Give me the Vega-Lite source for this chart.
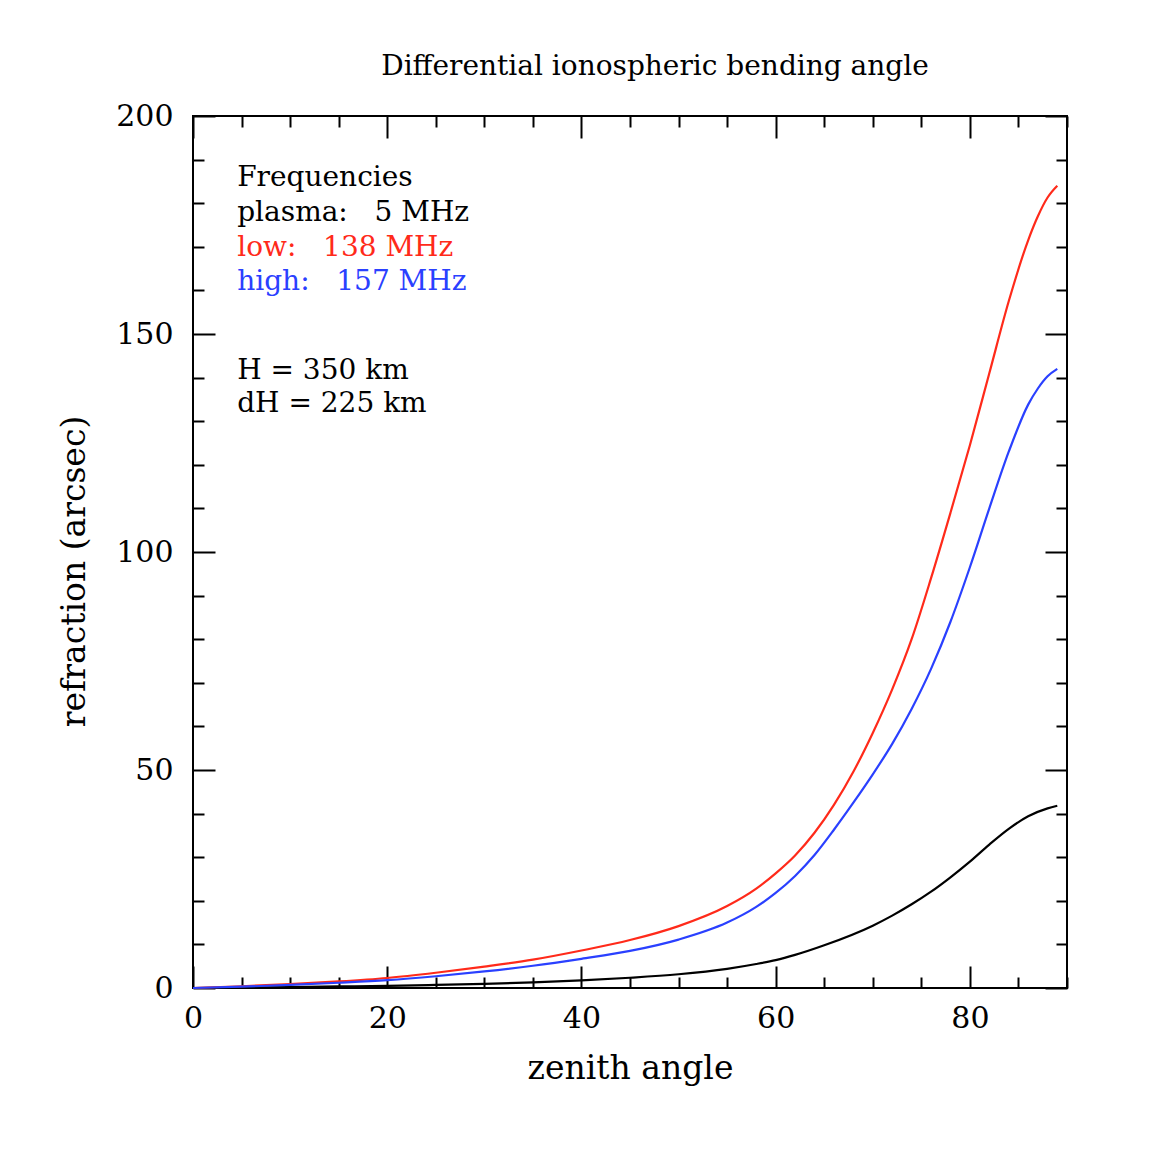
{
  "$schema": "https://vega.github.io/schema/vega-lite/v6.json",
  "width": 874,
  "height": 872,
  "autosize": {"type": "none"},
  "padding": {"left": 193, "top": 116, "right": 91, "bottom": 177},
  "background": "white",
  "config": {
    "view": {"stroke": "black", "strokeWidth": 2},
    "font": "DejaVu Serif",
    "axis": {
      "domain": false, "grid": false,
      "tickColor": "black", "tickWidth": 2,
      "labelColor": "black", "labelFont": "DejaVu Serif", "labelFontSize": 30,
      "titleFont": "DejaVu Serif", "titleFontSize": 33, "titleFontWeight": "normal", "titleColor": "black"
    }
  },
  "title": {
    "text": "Differential ionospheric bending angle",
    "font": "DejaVu Serif", "fontSize": 28, "fontWeight": "normal", "color": "black",
    "anchor": "middle", "dx": 25, "offset": -2, "baseline": "alphabetic"
  },
  "datasets": {
    "curves": [
      {"zenith": 0, "refraction": 0, "series": "plasma"},
      {"zenith": 5, "refraction": 0.1, "series": "plasma"},
      {"zenith": 10, "refraction": 0.2, "series": "plasma"},
      {"zenith": 15, "refraction": 0.35, "series": "plasma"},
      {"zenith": 20, "refraction": 0.5, "series": "plasma"},
      {"zenith": 25, "refraction": 0.7, "series": "plasma"},
      {"zenith": 30, "refraction": 0.95, "series": "plasma"},
      {"zenith": 35, "refraction": 1.3, "series": "plasma"},
      {"zenith": 40, "refraction": 1.75, "series": "plasma"},
      {"zenith": 45, "refraction": 2.35, "series": "plasma"},
      {"zenith": 50, "refraction": 3.15, "series": "plasma"},
      {"zenith": 55, "refraction": 4.4, "series": "plasma"},
      {"zenith": 58, "refraction": 5.5, "series": "plasma"},
      {"zenith": 60, "refraction": 6.4, "series": "plasma"},
      {"zenith": 62, "refraction": 7.6, "series": "plasma"},
      {"zenith": 65, "refraction": 9.8, "series": "plasma"},
      {"zenith": 70, "refraction": 14.3, "series": "plasma"},
      {"zenith": 72, "refraction": 16.6, "series": "plasma"},
      {"zenith": 74, "refraction": 19.2, "series": "plasma"},
      {"zenith": 76, "refraction": 22.1, "series": "plasma"},
      {"zenith": 78, "refraction": 25.4, "series": "plasma"},
      {"zenith": 80, "refraction": 29.0, "series": "plasma"},
      {"zenith": 82, "refraction": 32.9, "series": "plasma"},
      {"zenith": 84, "refraction": 36.5, "series": "plasma"},
      {"zenith": 86, "refraction": 39.4, "series": "plasma"},
      {"zenith": 88, "refraction": 41.2, "series": "plasma"},
      {"zenith": 89, "refraction": 41.8, "series": "plasma"},
      {"zenith": 0, "refraction": 0, "series": "low"},
      {"zenith": 5, "refraction": 0.4, "series": "low"},
      {"zenith": 10, "refraction": 0.9, "series": "low"},
      {"zenith": 15, "refraction": 1.5, "series": "low"},
      {"zenith": 20, "refraction": 2.3, "series": "low"},
      {"zenith": 25, "refraction": 3.5, "series": "low"},
      {"zenith": 30, "refraction": 4.9, "series": "low"},
      {"zenith": 35, "refraction": 6.5, "series": "low"},
      {"zenith": 40, "refraction": 8.6, "series": "low"},
      {"zenith": 45, "refraction": 11.0, "series": "low"},
      {"zenith": 50, "refraction": 14.2, "series": "low"},
      {"zenith": 55, "refraction": 18.8, "series": "low"},
      {"zenith": 58, "refraction": 22.8, "series": "low"},
      {"zenith": 60, "refraction": 26.3, "series": "low"},
      {"zenith": 62, "refraction": 30.4, "series": "low"},
      {"zenith": 64, "refraction": 35.6, "series": "low"},
      {"zenith": 66, "refraction": 42.0, "series": "low"},
      {"zenith": 68, "refraction": 49.6, "series": "low"},
      {"zenith": 70, "refraction": 58.5, "series": "low"},
      {"zenith": 72, "refraction": 68.5, "series": "low"},
      {"zenith": 74, "refraction": 80.0, "series": "low"},
      {"zenith": 76, "refraction": 94.0, "series": "low"},
      {"zenith": 78, "refraction": 109.0, "series": "low"},
      {"zenith": 80, "refraction": 124.5, "series": "low"},
      {"zenith": 82, "refraction": 141.0, "series": "low"},
      {"zenith": 84, "refraction": 157.5, "series": "low"},
      {"zenith": 86, "refraction": 171.5, "series": "low"},
      {"zenith": 87, "refraction": 177.0, "series": "low"},
      {"zenith": 88, "refraction": 181.3, "series": "low"},
      {"zenith": 89, "refraction": 184.0, "series": "low"},
      {"zenith": 0, "refraction": 0, "series": "high"},
      {"zenith": 5, "refraction": 0.3, "series": "high"},
      {"zenith": 10, "refraction": 0.7, "series": "high"},
      {"zenith": 15, "refraction": 1.2, "series": "high"},
      {"zenith": 20, "refraction": 1.8, "series": "high"},
      {"zenith": 25, "refraction": 2.7, "series": "high"},
      {"zenith": 30, "refraction": 3.8, "series": "high"},
      {"zenith": 35, "refraction": 5.1, "series": "high"},
      {"zenith": 40, "refraction": 6.7, "series": "high"},
      {"zenith": 45, "refraction": 8.5, "series": "high"},
      {"zenith": 50, "refraction": 11.1, "series": "high"},
      {"zenith": 55, "refraction": 15.0, "series": "high"},
      {"zenith": 58, "refraction": 18.6, "series": "high"},
      {"zenith": 60, "refraction": 21.8, "series": "high"},
      {"zenith": 62, "refraction": 25.7, "series": "high"},
      {"zenith": 64, "refraction": 30.5, "series": "high"},
      {"zenith": 66, "refraction": 36.3, "series": "high"},
      {"zenith": 68, "refraction": 42.5, "series": "high"},
      {"zenith": 70, "refraction": 49.0, "series": "high"},
      {"zenith": 72, "refraction": 56.0, "series": "high"},
      {"zenith": 74, "refraction": 64.0, "series": "high"},
      {"zenith": 76, "refraction": 73.2, "series": "high"},
      {"zenith": 78, "refraction": 84.0, "series": "high"},
      {"zenith": 80, "refraction": 96.5, "series": "high"},
      {"zenith": 82, "refraction": 110.0, "series": "high"},
      {"zenith": 84, "refraction": 123.0, "series": "high"},
      {"zenith": 86, "refraction": 133.8, "series": "high"},
      {"zenith": 87, "refraction": 137.5, "series": "high"},
      {"zenith": 88, "refraction": 140.3, "series": "high"},
      {"zenith": 89, "refraction": 142.0, "series": "high"}
    ],
    "notes": [
      {"zenith": 4.55, "refraction": 183.9, "label": "Frequencies", "series": "note"},
      {"zenith": 4.55, "refraction": 176.0, "label": "plasma:\u00a0\u00a0\u00a05 MHz", "series": "plasma"},
      {"zenith": 4.55, "refraction": 167.9, "label": "low:\u00a0\u00a0\u00a0138 MHz", "series": "low"},
      {"zenith": 4.55, "refraction": 160.1, "label": "high:\u00a0\u00a0\u00a0157 MHz", "series": "high"},
      {"zenith": 4.55, "refraction": 139.7, "label": "H = 350 km", "series": "note"},
      {"zenith": 4.55, "refraction": 132.2, "label": "dH = 225 km", "series": "note"}
    ]
  },
  "layer": [
    {
      "data": {"name": "curves"},
      "mark": {"type": "line", "strokeWidth": 2.2, "interpolate": "monotone"},
      "encoding": {
        "x": {
          "field": "zenith", "type": "quantitative",
          "scale": {"domain": [0, 90], "nice": false, "zero": false},
          "axis": {
            "orient": "bottom", "title": "zenith angle",
            "values": [0, 5, 10, 15, 20, 25, 30, 35, 40, 45, 50, 55, 60, 65, 70, 75, 80, 85, 90],
            "labelExpr": "datum.value % 20 === 0 ? datum.label : ''",
            "tickSize": {"condition": {"test": "datum.value % 20 === 0", "value": -22}, "value": -11},
            "labelPadding": 37, "labelFlush": false, "labelOverlap": false,
            "titleY": 90, "titleBaseline": "alphabetic"
          }
        },
        "y": {
          "field": "refraction", "type": "quantitative",
          "scale": {"domain": [0, 200], "nice": false, "zero": false},
          "axis": {
            "orient": "left", "title": "refraction (arcsec)",
            "values": [0, 10, 20, 30, 40, 50, 60, 70, 80, 90, 100, 110, 120, 130, 140, 150, 160, 170, 180, 190, 200],
            "labelExpr": "datum.value % 50 === 0 ? datum.label : ''",
            "tickSize": {"condition": {"test": "datum.value % 50 === 0", "value": -22}, "value": -11},
            "labelPadding": 42, "labelFlush": false, "labelOverlap": false,
            "titleX": -109, "titleY": 455, "titleBaseline": "alphabetic", "titleAngle": -90
          }
        },
        "color": {
          "field": "series", "type": "nominal",
          "scale": {"domain": ["plasma", "low", "high", "note"], "range": ["#000000", "#ff2a1a", "#2a40ff", "#000000"]},
          "legend": null
        }
      }
    },
    {
      "data": {"name": "notes"},
      "mark": {"type": "text", "align": "left", "baseline": "alphabetic", "fontSize": 28, "font": "DejaVu Serif"},
      "encoding": {
        "x": {
          "field": "zenith", "type": "quantitative",
          "scale": {"domain": [0, 90], "nice": false, "zero": false},
          "axis": {
            "orient": "top", "title": null, "labels": false,
            "values": [0, 5, 10, 15, 20, 25, 30, 35, 40, 45, 50, 55, 60, 65, 70, 75, 80, 85, 90],
            "tickSize": {"condition": {"test": "datum.value % 20 === 0", "value": -22}, "value": -11}
          }
        },
        "y": {
          "field": "refraction", "type": "quantitative",
          "scale": {"domain": [0, 200], "nice": false, "zero": false},
          "axis": {
            "orient": "right", "title": null, "labels": false,
            "values": [0, 10, 20, 30, 40, 50, 60, 70, 80, 90, 100, 110, 120, 130, 140, 150, 160, 170, 180, 190, 200],
            "tickSize": {"condition": {"test": "datum.value % 50 === 0", "value": -22}, "value": -11}
          }
        },
        "text": {"field": "label", "type": "nominal"},
        "color": {"field": "series", "type": "nominal", "legend": null}
      }
    }
  ],
  "resolve": {"axis": {"x": "independent", "y": "independent"}}
}
